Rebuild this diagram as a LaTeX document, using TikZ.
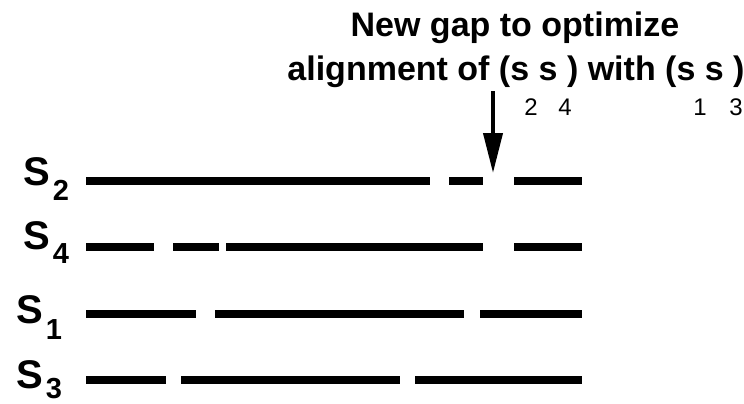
\documentclass[tikz,border=0pt]{standalone}
\usepackage{fontspec}
\setmainfont{Liberation Sans}
\usetikzlibrary{arrows.meta}
\newcommand{\seqname}[2]{S\kern3pt\raisebox{-#2pt}{\fontsize{29}{29}\selectfont #1}}

\begin{document}
\begin{tikzpicture}[x=1pt,y=-1pt,
  seg/.style={line width=7.5pt,black},
  lab/.style={anchor=base west,inner sep=0pt,font=\fontsize{40}{40}\selectfont\bfseries},
  txt/.style={anchor=base,inner sep=0pt,font=\fontsize{34}{34}\selectfont\bfseries},
  idx/.style={anchor=base,inner sep=0pt,font=\fontsize{24}{24}\selectfont},
  pointer/.style={line width=4pt,-{Triangle[width=19pt,length=40pt]}}]
\useasboundingbox (0,0) rectangle (744,404);
% note above the rows
\node[txt] (gapnote) at (515,37) {New gap to optimize};
\node[txt] (alignnote) at (516,81) {alignment of (s s ) with (s s )};
\node[idx] (sub2) at (531,115) {2};
\node[idx] (sub4) at (565,115) {4};
\node[idx] (sub1) at (700,115) {1};
\node[idx] (sub3) at (736,115) {3};
% sequence names
\node[lab] (s2) at (23,185) {\seqname{2}{15}};
\node[lab] (s4) at (23,249) {\seqname{4}{14}};
\node[lab] (s1) at (16,323) {\seqname{1}{16}};
\node[lab] (s3) at (16,388) {\seqname{3}{10}};
% aligned rows with their gaps
\draw[seg] (86,181) -- (430,181) (449,181) -- (483,181) (514,181) -- (582,181);
\draw[seg] (86,247) -- (154,247) (173,247) -- (219,247) (226,247) -- (483,247) (514,247) -- (582,247);
\draw[seg] (86,314) -- (196,314) (215,314) -- (464,314) (480,314) -- (582,314);
\draw[seg] (86,380) -- (166,380) (181,380) -- (400,380) (415,380) -- (582,380);
% arrow down into the new gap
\coordinate (gap) at (493,173);
\draw[pointer] (gap |- alignnote.south) ++(0,3) -- (gap);
\end{tikzpicture}
\end{document}
